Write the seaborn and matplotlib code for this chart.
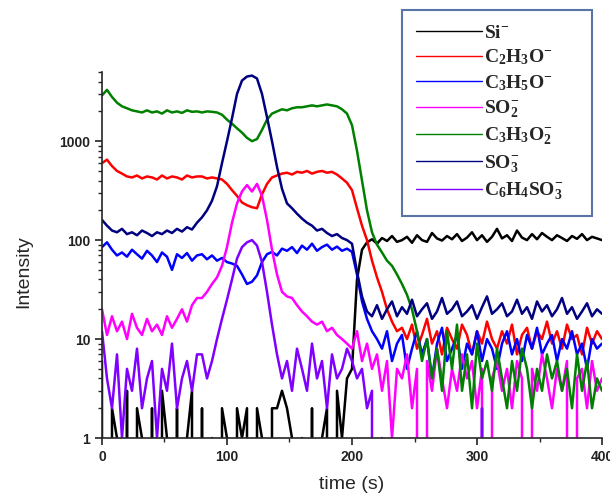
import numpy as np
import pandas as pd
import matplotlib
matplotlib.use("Agg")
import matplotlib.pyplot as plt
from matplotlib.lines import Line2D
from matplotlib.ticker import LogLocator, NullFormatter
import seaborn as sns

# time axis (s), one reading every 4 s
time = np.arange(0, 401, 4)

si = [6, 0, 2, 1, 0, 3, 0, 2, 1, 0,
      2, 0, 3, 1, 0, 2, 0, 1, 3, 0,
      2, 0, 1, 0, 2, 1, 0, 2, 1, 2,
      0, 2, 1, 0, 2, 2, 3, 2, 1, 0,
      1, 0, 2, 0, 1, 2, 0, 3, 1, 4,
      5, 40, 80, 95, 102, 92, 105, 98, 110, 96,
      100, 108, 94, 112, 100, 96, 118, 104, 99, 110,
      102, 115, 98, 106, 120, 100, 112, 96, 108, 130,
      104, 112, 98, 125, 106, 100, 115, 102, 118, 108,
      100, 112, 105, 98, 110, 103, 115, 100, 108, 104, 100]

c2h3o = [600, 650, 560, 500, 470, 440, 430, 450, 420, 440,
         430, 410, 450, 420, 440, 430, 410, 450, 430, 440,
         440, 420, 430, 420, 410, 370, 320, 280, 240, 225,
         215, 210, 290, 370, 430, 450, 470, 480, 460, 490,
         480, 500, 470, 490, 500, 480, 490, 460, 420, 380,
         320, 210, 140, 100, 62, 42, 30, 20, 15, 12,
         13, 10, 14, 8, 11, 16, 9, 12, 7, 13,
         10, 8, 14, 11, 7, 12, 9, 15, 10, 8,
         12, 9, 14, 7, 11, 13, 8, 12, 10, 15,
         9, 12, 8, 14, 10, 11, 7, 13, 9, 12, 10]

c3h5o = [85, 95, 80, 70, 75, 68, 80, 72, 65, 78,
         70, 60, 75, 68, 50, 72, 66, 74, 62, 70,
         72, 64, 70, 62, 66, 60, 58, 55, 45, 36,
         38, 44, 60, 72, 76, 70, 82, 78, 85, 74,
         88, 80, 92, 78, 85, 90, 80, 86, 78, 82,
         76, 45, 24, 16, 12, 10, 8, 12, 6, 9,
         11, 5, 8, 12, 7, 10, 4, 9, 13, 6,
         8, 11, 5, 9, 7, 12, 6, 10, 8, 5,
         9, 12, 7, 10, 6, 11, 8, 13, 7, 9,
         11, 6, 10, 8, 12, 7, 9, 5, 10, 8, 9]

so2 = [20, 11, 17, 12, 15, 10, 18, 13, 11, 16,
       12, 14, 11, 17, 13, 16, 20, 15, 22, 26,
       26, 30, 36, 42, 55, 85, 150, 235, 310, 360,
       310, 370, 280, 160, 80, 45, 30, 27, 26, 22,
       19, 17, 15, 14, 15, 12, 13, 11, 10, 9,
       8, 12, 6, 9, 5, 7, 3, 6, 1, 5,
       4, 7, 2, 5, 0, 6, 3, 8, 4, 2,
       5, 3, 7, 4, 6, 2, 5, 0, 4, 6,
       3, 5, 2, 6, 4, 0, 5, 3, 7, 4,
       2, 5, 3, 6, 0, 4, 5, 2, 6, 3, 4]

c3h3o2 = [2900, 3300, 2800, 2450, 2250, 2150, 2050, 2000, 1950, 2050,
          1950, 2000, 1900, 2050, 1950, 2000, 1930, 2050, 1980, 2000,
          1950, 2000, 1980, 1950, 1850, 1650, 1500, 1350, 1220, 1080,
          1000, 1050, 1300, 1650, 1900, 2000, 2100, 2050, 2150, 2200,
          2200, 2250, 2300, 2250, 2300, 2350, 2300, 2250, 2100, 1900,
          1450, 800, 400, 200, 120, 90, 75, 62, 55, 45,
          36, 28, 20, 12, 6, 10, 4, 8, 3, 12,
          5, 14, 3, 7, 2, 9, 4, 6, 3, 8,
          4, 2, 6, 3, 8, 5, 2, 5, 3, 7,
          4, 6, 3, 5, 2, 7, 3, 6, 2, 4, 3]

so3 = [160, 140, 125, 120, 130, 115, 120, 112, 125, 118,
       110, 120, 115, 125, 118, 130, 122, 135, 128, 150,
       170, 200, 250, 350, 600, 1000, 1700, 3000, 4100, 4500,
       4600, 4300, 3000, 1750, 1000, 550, 330, 235, 210, 185,
       165, 150, 140, 125, 130, 118, 110, 115, 105, 100,
       92, 48, 27, 19, 17, 22, 16, 20, 24, 17,
       21, 18, 25, 17, 20, 23, 16, 19, 26, 18,
       20, 24, 17, 19, 22, 16, 21, 27, 18, 20,
       23, 17, 19, 25, 18, 21, 16, 24, 19, 22,
       17, 20, 26, 18, 21, 16, 19, 23, 17, 20, 18]

c6h4so3 = [12, 4, 2, 7, 1, 5, 3, 8, 2, 4,
           6, 1, 5, 3, 9, 2, 4, 6, 3, 7,
           7, 4, 6, 10, 16, 25, 40, 65, 85, 95,
           100, 88, 60, 30, 14, 7, 4, 6, 3, 8,
           5, 3, 9, 4, 6, 2, 7, 4, 5, 8,
           6, 4, 5, 2, 3, 0, 1, 0, 0, 0,
           0, 0, 0, 0, 0, 0, 0, 0, 0, 0,
           0, 0, 0, 0, 0, 0, 2, 0, 0, 0,
           0, 0, 0, 0, 0, 0, 0, 0, 0, 0,
           0, 0, 0, 0, 0, 0, 0, 0, 0, 0, 0]

names = ["Si", "C2H3O", "C3H5O", "SO2", "C3H3O2", "SO3", "C6H4SO3"]
labels = [r"Si$^{-}$", r"C$_{2}$H$_{3}$O$^{-}$", r"C$_{3}$H$_{5}$O$^{-}$",
          r"SO$_{2}^{-}$", r"C$_{3}$H$_{3}$O$_{2}^{-}$", r"SO$_{3}^{-}$",
          r"C$_{6}$H$_{4}$SO$_{3}^{-}$"]
colors = ["#000000", "#ff0000", "#0000ff", "#ff00ff", "#008000", "#000080", "#8000ff"]
series = [si, c2h3o, c3h5o, so2, c3h3o2, so3, c6h4so3]

df = pd.concat([pd.DataFrame({"time": time, "intensity": v, "species": n})
                for n, v in zip(names, series)], ignore_index=True)

sns.set_style("ticks")
plt.rcParams["font.family"] = ["Liberation Sans", "DejaVu Sans"]
plt.rcParams["mathtext.default"] = "regular"

fig = plt.figure(figsize=(6.1, 4.97), dpi=100)
ax = fig.add_axes([0.1672, 0.1187, 0.8197, 0.7364])

sns.lineplot(data=df, x="time", y="intensity", hue="species", hue_order=names,
             palette=dict(zip(names, colors)), estimator=None, linewidth=1.8,
             legend=False, ax=ax)

ax.set_yscale("log")
ax.set_xlim(0, 400)
ax.set_ylim(1, 5000)
ax.set_xticks([0, 100, 200, 300, 400])
ax.set_xticklabels(["0", "100", "200", "300", "400"], fontweight="bold")
ax.set_xticks([50, 150, 250, 350], minor=True)
ax.set_yticks([1, 10, 100, 1000])
ax.set_yticklabels(["1", "10", "100", "1000"], fontweight="bold")
ax.yaxis.set_minor_locator(LogLocator(base=10, subs=np.arange(2, 10)))
ax.yaxis.set_minor_formatter(NullFormatter())
ax.tick_params(which="major", direction="out", length=5, width=1.2,
               labelsize=10, colors="#222222")
ax.tick_params(which="minor", direction="out", length=3, width=1.0)
for s in ["top", "right"]:
    ax.spines[s].set_visible(False)
for s in ["left", "bottom"]:
    ax.spines[s].set_linewidth(1.2)

ax.set_xlabel("time (s)", fontsize=14)
ax.set_ylabel("Intensity", fontsize=14)
ax.xaxis.set_label_coords(0.5, -0.105)
ax.yaxis.set_label_coords(-0.14, 0.454)

handles = [Line2D([0], [0], color=c, lw=1.0) for c in colors]
leg = fig.legend(handles, labels, loc="upper left", mode="expand",
                 bbox_to_anchor=(402 / 610, 1 - 212 / 497, 190 / 610, 202 / 497),
                 prop={"family": "Liberation Serif", "weight": "bold", "size": 14},
                 frameon=True, fancybox=False, handlelength=3.4, handletextpad=0.1,
                 labelspacing=0.3, borderpad=0.72, borderaxespad=0)
leg.get_frame().set_edgecolor("#2f528f")
leg.get_frame().set_linewidth(1.5)

fig.savefig("out.png", dpi=100, facecolor="white")
